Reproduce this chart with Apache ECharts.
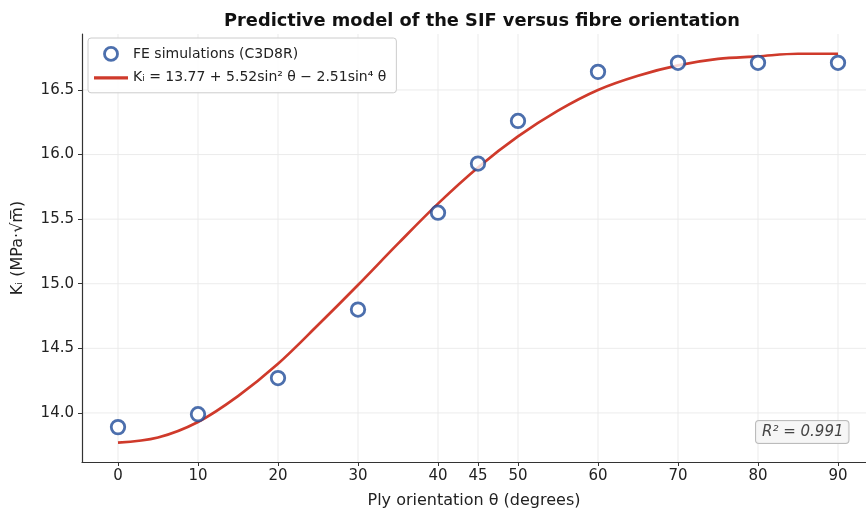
<!DOCTYPE html>
<html>
<head>
<meta charset="utf-8">
<script src="https://cdn.jsdelivr.net/npm/echarts@6/dist/echarts.min.js"></script>
<style>html,body{margin:0;padding:0;background:#fff}#c{width:866px;height:514px}</style>
</head>
<body>
<div id="c"></div>
<script>
// ---- data ----
const feAngles = [0, 10, 20, 30, 40, 45, 50, 60, 70, 80, 90];
const feValues = [13.89, 13.99, 14.27, 14.80, 15.55, 15.93, 16.26, 16.64, 16.71, 16.71, 16.71];
const modelAngles = [0, 5, 10, 15, 20, 25, 30, 35, 40, 45, 50, 55, 60, 65, 70, 75, 80, 85, 90];
const modelValues = [13.77, 13.81, 13.93, 14.13, 14.38, 14.68, 14.99, 15.31, 15.62, 15.90, 16.14, 16.34, 16.50, 16.61, 16.69, 16.74, 16.76, 16.78, 16.78];
const xTicks = [0, 10, 20, 30, 40, 45, 50, 60, 70, 80, 90];
const yTicks = [14.0, 14.5, 15.0, 15.5, 16.0, 16.5];
const seriesNames = ['FE simulations (C3D8R)', 'Kᵢ = 13.77 + 5.52sin² θ − 2.51sin⁴ θ'];
const r2Text = 'R² = 0.991';

const FONT = 'DejaVu Sans';
const BLUE = '#1f4b98';
const RED = '#cf3a2b';
const X_MIN = -4.5, X_MAX = 93.5, Y_MIN = 13.62, Y_MAX = 16.933;
const chart = echarts.init(document.getElementById('c'), null, {renderer: 'canvas'});

// grid line items: [orientation, value]
const gridItems = xTicks.map(v => [0, v]).concat(yTicks.map(v => [1, v]));

chart.setOption({
  animation: false,
  backgroundColor: '#fff',
  textStyle: {fontFamily: FONT},
  title: {
    text: 'Predictive model of the SIF versus fibre orientation',
    left: 477, top: 7, textAlign: 'center',
    textStyle: {fontFamily: FONT, fontWeight: 'bold', fontSize: 17.8, color: '#111'}
  },
  grid: {left: 82, right: 0, top: 34, bottom: 52},
  xAxis: {
    type: 'value', min: X_MIN, max: X_MAX,
    name: 'Ply orientation θ (degrees)', nameLocation: 'middle', nameGap: 31,
    nameTextStyle: {fontFamily: FONT, fontSize: 16, color: '#222'},
    axisLine: {show: true, onZero: false, lineStyle: {color: '#333', width: 1.2}},
    axisTick: {show: true, length: 4, customValues: xTicks, lineStyle: {color: '#333'}},
    axisLabel: {customValues: xTicks, fontFamily: FONT, fontSize: 15, color: '#222', margin: 7},
    splitLine: {show: false}
  },
  yAxis: {
    type: 'value', min: Y_MIN, max: Y_MAX,
    name: 'Kᵢ (MPa·√m̅)', nameLocation: 'middle', nameGap: 56, nameRotate: 90,
    nameTextStyle: {fontFamily: FONT, fontSize: 16, color: '#222'},
    axisLine: {show: true, onZero: false, lineStyle: {color: '#333', width: 1.2}},
    axisTick: {show: true, length: 4, customValues: yTicks, lineStyle: {color: '#333'}},
    axisLabel: {customValues: yTicks, fontFamily: FONT, fontSize: 15, color: '#222', margin: 8,
      formatter: v => v.toFixed(1)},
    splitLine: {show: false}
  },
  legend: {
    data: [
      {name: seriesNames[0], icon: 'circle',
        itemStyle: {color: '#ffffff', borderColor: BLUE, borderWidth: 2.8}},
      {name: seriesNames[1], icon: 'path://M0,0 L30,0 L30,2.8 L0,2.8 Z',
        itemStyle: {color: RED, borderWidth: 0}}
    ],
    orient: 'vertical', left: 88, top: 38, symbolKeepAspect: true,
    padding: [8, 10, 8, 6], itemGap: 9, itemWidth: 34, itemHeight: 13,
    borderColor: '#cccccc', borderWidth: 1, borderRadius: 3, backgroundColor: 'rgba(255,255,255,0.9)',
    textStyle: {fontFamily: FONT, fontSize: 14, color: '#222'}
  },
  graphic: [{
    type: 'text', left: 755, top: 420, z: 100,
    style: {
      text: r2Text, font: 'italic 15px "DejaVu Sans"', fill: '#444',
      backgroundColor: 'rgba(245,245,245,0.9)', borderColor: '#bbbbbb', borderWidth: 1, borderRadius: 3,
      padding: [4, 5, 3, 6]
    }
  }],
  series: [
    {
      type: 'custom', name: '_grid', silent: true, z: 0,
      data: gridItems,
      encode: {x: -1, y: -1},
      renderItem: function (params, api) {
        const o = api.value(0), v = api.value(1);
        const p1 = o === 0 ? api.coord([v, Y_MIN]) : api.coord([X_MIN, v]);
        const p2 = o === 0 ? api.coord([v, Y_MAX]) : api.coord([X_MAX, v]);
        return {type: 'line', shape: {x1: p1[0], y1: p1[1], x2: p2[0], y2: p2[1]},
          style: {stroke: '#e9e9e9', lineWidth: 0.9}};
      }
    },
    {
      type: 'line', name: seriesNames[1], z: 3,
      data: modelAngles.map((a, i) => [a, modelValues[i]]),
      smooth: 0.35, showSymbol: false, symbol: 'none', silent: true,
      lineStyle: {color: RED, width: 2.7},
      itemStyle: {color: RED}
    },
    {
      type: 'scatter', name: seriesNames[0], z: 5,
      data: feAngles.map((a, i) => [a, feValues[i]]),
      symbol: 'circle', symbolSize: 13.5,
      itemStyle: {color: '#ffffff', borderColor: BLUE, borderWidth: 2.8}
    }
  ]
});
</script>
</body>
</html>
